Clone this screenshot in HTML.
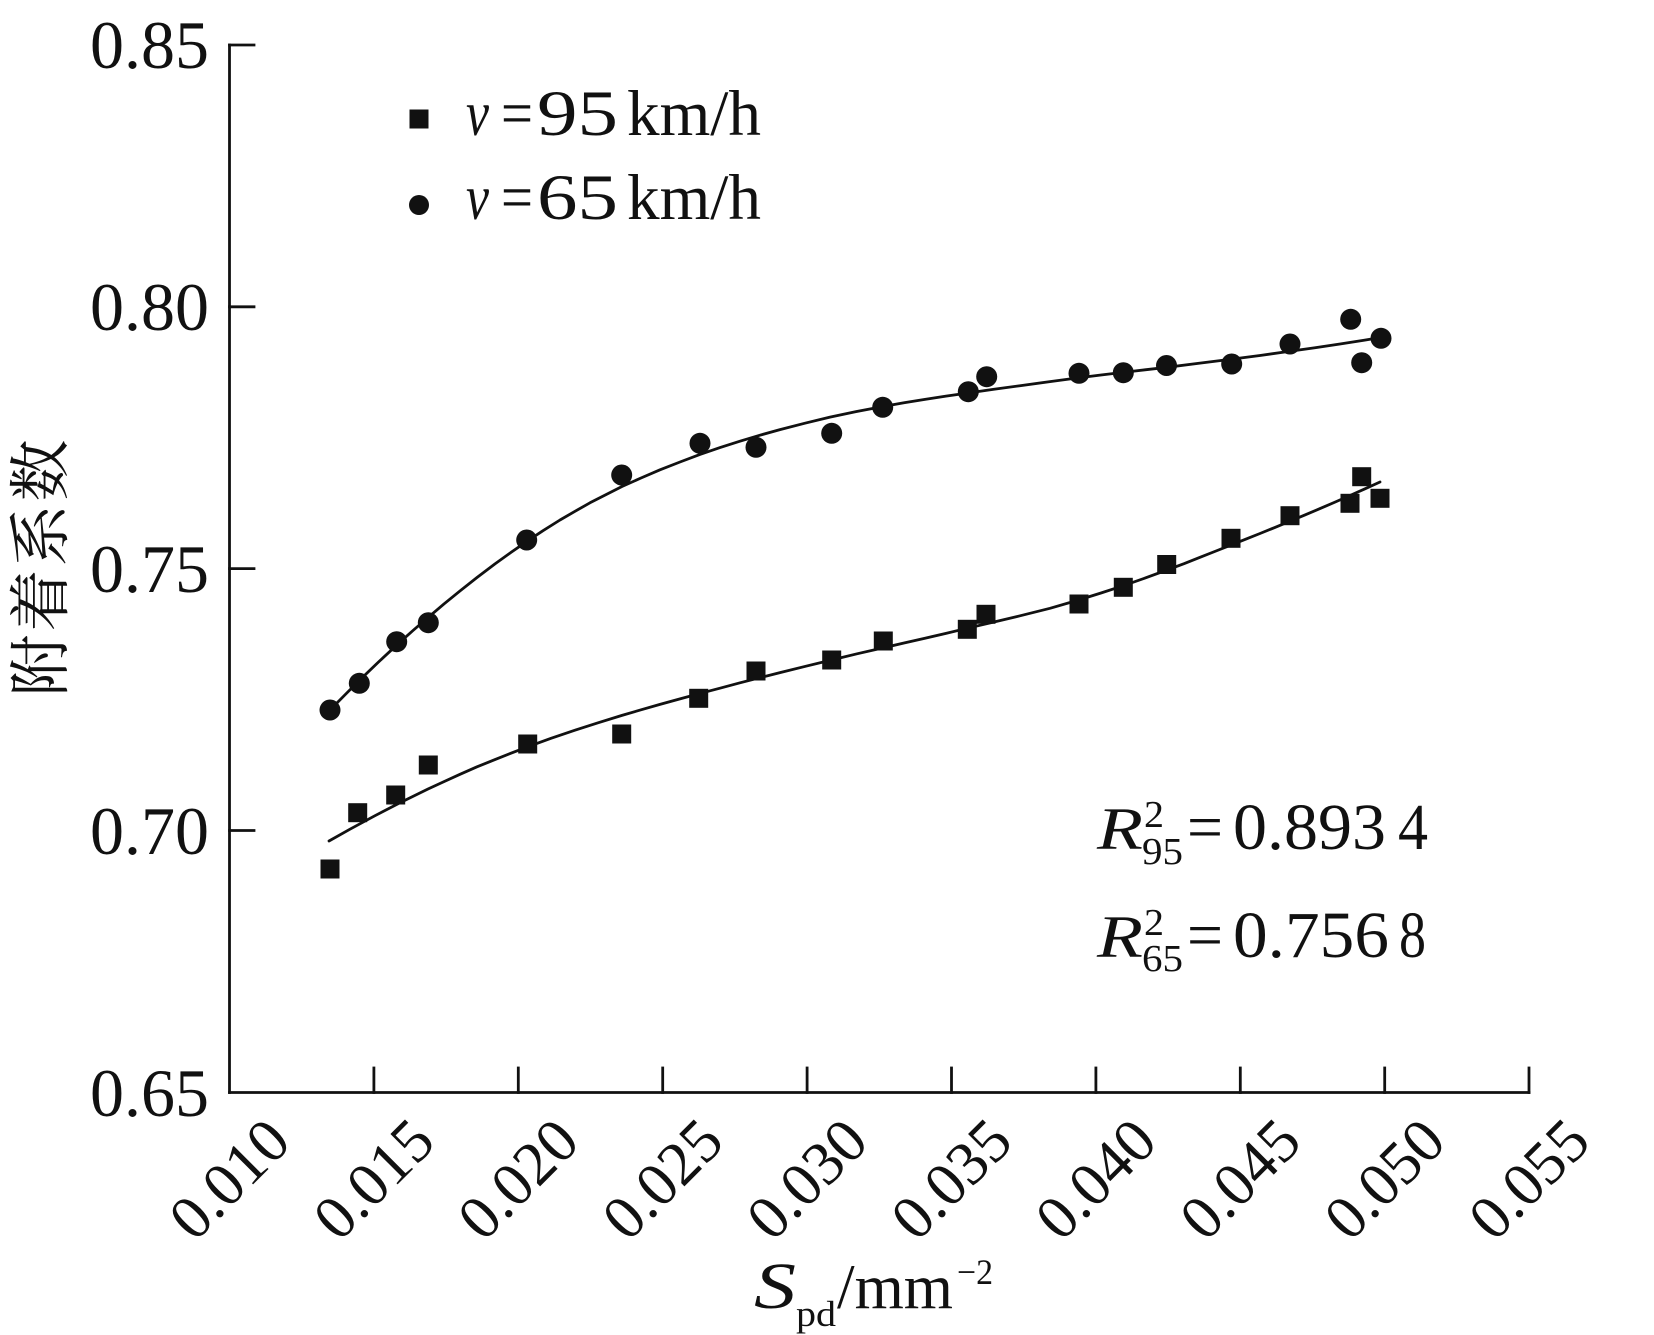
<!DOCTYPE html>
<html>
<head>
<meta charset="utf-8">
<style>
html,body{margin:0;padding:0;background:#fff;}
svg{display:block;}
text{font-family:"Liberation Serif","Noto Serif CJK SC",serif;fill:#111;}
.cjk{font-family:"Liberation Serif","Noto Serif CJK SC","Noto Sans CJK SC",serif;}
</style>
</head>
<body>
<svg width="1654" height="1335" viewBox="0 0 1654 1335" xmlns="http://www.w3.org/2000/svg">
<rect width="1654" height="1335" fill="#fff"/>

<!-- axes -->
<g stroke="#111" stroke-width="2.8" fill="none" stroke-linecap="square">
  <line x1="229.5" y1="45" x2="229.5" y2="1092.5"/>
  <line x1="229.5" y1="1092.5" x2="1529" y2="1092.5"/>
  <line x1="229.5" y1="45" x2="254" y2="45"/>
  <line x1="229.5" y1="306.8" x2="254" y2="306.8"/>
  <line x1="229.5" y1="568.6" x2="254" y2="568.6"/>
  <line x1="229.5" y1="830.5" x2="254" y2="830.5"/>
  <line x1="373.9" y1="1068" x2="373.9" y2="1092.5"/>
  <line x1="518.3" y1="1068" x2="518.3" y2="1092.5"/>
  <line x1="662.7" y1="1068" x2="662.7" y2="1092.5"/>
  <line x1="807.1" y1="1068" x2="807.1" y2="1092.5"/>
  <line x1="951.5" y1="1068" x2="951.5" y2="1092.5"/>
  <line x1="1095.9" y1="1068" x2="1095.9" y2="1092.5"/>
  <line x1="1240.3" y1="1068" x2="1240.3" y2="1092.5"/>
  <line x1="1384.7" y1="1068" x2="1384.7" y2="1092.5"/>
  <line x1="1529" y1="1068" x2="1529" y2="1092.5"/>
</g>

<!-- y tick labels -->
<g font-size="68" text-anchor="end">
  <text x="209" y="68">0.85</text>
  <text x="209" y="330">0.80</text>
  <text x="209" y="592">0.75</text>
  <text x="209" y="854">0.70</text>
  <text x="209" y="1116">0.65</text>
</g>

<!-- x tick labels (rotated) -->
<g font-size="62">
  <text x="194.5" y="1243" transform="rotate(-45 194.5 1243)">0.010</text>
  <text x="338.9" y="1243" transform="rotate(-45 338.9 1243)">0.015</text>
  <text x="483.3" y="1243" transform="rotate(-45 483.3 1243)">0.020</text>
  <text x="627.7" y="1243" transform="rotate(-45 627.7 1243)">0.025</text>
  <text x="772.1" y="1243" transform="rotate(-45 772.1 1243)">0.030</text>
  <text x="916.5" y="1243" transform="rotate(-45 916.5 1243)">0.035</text>
  <text x="1060.9" y="1243" transform="rotate(-45 1060.9 1243)">0.040</text>
  <text x="1205.3" y="1243" transform="rotate(-45 1205.3 1243)">0.045</text>
  <text x="1349.7" y="1243" transform="rotate(-45 1349.7 1243)">0.050</text>
  <text x="1494.1" y="1243" transform="rotate(-45 1494.1 1243)">0.055</text>
</g>

<!-- y axis title -->
<text class="cjk" x="0" y="0" font-size="62" text-anchor="middle" dominant-baseline="central" textLength="257" lengthAdjust="spacing" transform="translate(42,568) rotate(-90)">附着系数</text>

<!-- x axis title -->
<text x="754" y="1308" font-size="66" font-style="italic" textLength="42" lengthAdjust="spacingAndGlyphs">S</text>
<text x="796" y="1326" font-size="36" textLength="40" lengthAdjust="spacingAndGlyphs">pd</text>
<text x="837" y="1308" font-size="64" textLength="116" lengthAdjust="spacingAndGlyphs">/mm</text>
<text x="957" y="1284" font-size="36" textLength="36" lengthAdjust="spacingAndGlyphs">−2</text>

<!-- legend -->
<rect x="409.5" y="109.5" width="19" height="19" fill="#111"/>
<circle cx="419" cy="205" r="10" fill="#111"/>
<g font-size="65">
  <text x="466" y="135" font-style="italic" textLength="23" lengthAdjust="spacingAndGlyphs">v</text>
  <text x="501" y="135" textLength="32" lengthAdjust="spacingAndGlyphs">=</text>
  <text x="537" y="135" textLength="81" lengthAdjust="spacingAndGlyphs">95</text>
  <text x="627" y="135" textLength="134" lengthAdjust="spacingAndGlyphs">km/h</text>
  <text x="466" y="219" font-style="italic" textLength="23" lengthAdjust="spacingAndGlyphs">v</text>
  <text x="501" y="219" textLength="32" lengthAdjust="spacingAndGlyphs">=</text>
  <text x="537" y="219" textLength="81" lengthAdjust="spacingAndGlyphs">65</text>
  <text x="627" y="219" textLength="134" lengthAdjust="spacingAndGlyphs">km/h</text>
</g>

<!-- R^2 annotations -->
<g>
  <text x="1097" y="849" font-size="60" font-style="italic" textLength="46" lengthAdjust="spacingAndGlyphs">R</text>
  <text x="1144" y="827" font-size="38" textLength="20" lengthAdjust="spacingAndGlyphs">2</text>
  <text x="1142" y="864" font-size="38" textLength="41" lengthAdjust="spacingAndGlyphs">95</text>
  <text x="1187" y="849" font-size="66" textLength="36" lengthAdjust="spacingAndGlyphs">=</text>
  <text x="1233" y="849" font-size="66" textLength="153" lengthAdjust="spacingAndGlyphs">0.893</text>
  <text x="1398" y="849" font-size="66" textLength="30" lengthAdjust="spacingAndGlyphs">4</text>

  <text x="1097" y="957" font-size="60" font-style="italic" textLength="46" lengthAdjust="spacingAndGlyphs">R</text>
  <text x="1144" y="935" font-size="38" textLength="20" lengthAdjust="spacingAndGlyphs">2</text>
  <text x="1142" y="971" font-size="38" textLength="41" lengthAdjust="spacingAndGlyphs">65</text>
  <text x="1187" y="957" font-size="66" textLength="36" lengthAdjust="spacingAndGlyphs">=</text>
  <text x="1233" y="957" font-size="66" textLength="156" lengthAdjust="spacingAndGlyphs">0.756</text>
  <text x="1399" y="957" font-size="66" textLength="27" lengthAdjust="spacingAndGlyphs">8</text>
</g>

<!-- fit curves -->
<g fill="none" stroke="#111" stroke-width="2.8" stroke-linejoin="round" stroke-linecap="round">
  <polyline points="332,708 345,694.8 359,680.8 378,662.5 397,644.8 413,630.5 428,617.6 444,603.9 460,590.9 477,577.5 495,563.9 511,552.4 527,541.3 543,530.7 560,520 575,511.3 590,502.8 606,494.6 622,486.5 641,478 660,469.8 680,462 700,454.4 720,447.6 740,441.2 760,435.2 780,429.6 805,423.2 830,417.1 856,411.6 883,406.5 904,402.8 925,399.4 946,396.1 968,393 994,389.3 1020,385.7 1050,381.6 1079,377.7 1101,375 1123,372.4 1145,369.8 1167,367.3 1198,363.4 1230,359.4 1260,355.5 1290,351.3 1315,347.7 1340,344 1364,340.3 1388,336.3"/>
  <polyline points="329,841 350,829.2 375,815.7 400,802.7 428,789 444,781.6 460,774.3 477,766.8 495,759.6 511,753.2 528,746.7 551,738.3 575,730.2 598,722.8 622,715.4 641,709.8 660,704.4 680,698.9 699,693.7 720,688.2 740,682.8 760,677.7 780,672.6 806,666.2 832,659.9 857,653.8 883,647.9 904,643 925,638.2 946,633.4 967,628.3 994,622 1020,615.8 1050,608.3 1079,599.9 1101,593 1123,585.8 1145,578.1 1167,570 1184,563.7 1200,557.3 1216,551 1231,545.1 1246,539.1 1260,533.5 1275,527.4 1290,521.2 1305,514.9 1320,508.6 1335,502.1 1350,495.5 1365,488.8 1380,482"/>
</g>

<!-- 65 km/h circles -->
<g fill="#111">
  <circle cx="330" cy="710" r="10.5"/>
  <circle cx="359.3" cy="683.3" r="10.5"/>
  <circle cx="396.7" cy="641.7" r="10.5"/>
  <circle cx="428.3" cy="622.7" r="10.5"/>
  <circle cx="526.7" cy="540" r="10.5"/>
  <circle cx="621.7" cy="475" r="10.5"/>
  <circle cx="700" cy="443.3" r="10.5"/>
  <circle cx="756" cy="447.3" r="10.5"/>
  <circle cx="831.7" cy="433.3" r="10.5"/>
  <circle cx="882.7" cy="407.3" r="10.5"/>
  <circle cx="968.3" cy="391.7" r="10.5"/>
  <circle cx="986.7" cy="376.7" r="10.5"/>
  <circle cx="1079" cy="373.3" r="10.5"/>
  <circle cx="1123.3" cy="372.7" r="10.5"/>
  <circle cx="1166.5" cy="365.5" r="10.5"/>
  <circle cx="1231.7" cy="364" r="10.5"/>
  <circle cx="1290" cy="344" r="10.5"/>
  <circle cx="1350.7" cy="319.3" r="10.5"/>
  <circle cx="1361.7" cy="362.7" r="10.5"/>
  <circle cx="1381" cy="338.3" r="10.5"/>
</g>

<!-- 95 km/h squares -->
<g fill="#111">
  <rect x="320.5" y="859.5" width="19" height="19"/>
  <rect x="348.2" y="803.2" width="19" height="19"/>
  <rect x="386.2" y="785.5" width="19" height="19"/>
  <rect x="418.8" y="755.5" width="19" height="19"/>
  <rect x="518.2" y="734.5" width="19" height="19"/>
  <rect x="612.2" y="724.5" width="19" height="19"/>
  <rect x="689.2" y="688.8" width="19" height="19"/>
  <rect x="746.5" y="661.5" width="19" height="19"/>
  <rect x="822.2" y="650.5" width="19" height="19"/>
  <rect x="873.8" y="631.5" width="19" height="19"/>
  <rect x="957.8" y="619.8" width="19" height="19"/>
  <rect x="976.5" y="604.8" width="19" height="19"/>
  <rect x="1069.5" y="594.5" width="19" height="19"/>
  <rect x="1113.8" y="577.8" width="19" height="19"/>
  <rect x="1157.2" y="555" width="19" height="19"/>
  <rect x="1221.5" y="528.8" width="19" height="19"/>
  <rect x="1280.5" y="506.2" width="19" height="19"/>
  <rect x="1340.5" y="493.8" width="19" height="19"/>
  <rect x="1352.2" y="467.2" width="19" height="19"/>
  <rect x="1370.5" y="488.8" width="19" height="19"/>
</g>
</svg>
</body>
</html>
